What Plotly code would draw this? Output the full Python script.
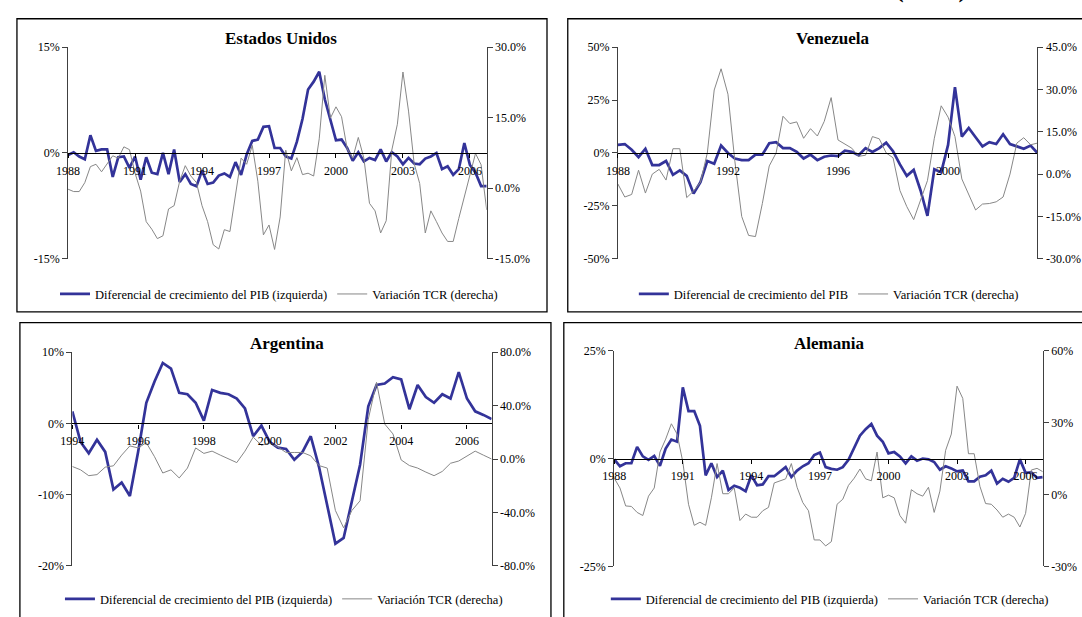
import plotly.graph_objects as go

W, H = 1082, 617
SERIF = "Liberation Serif"
BLUE = "#333399"
GREY = "#878787"

# ---------------- Estados Unidos (trimestral, 1988T1 - 2006T4) ----------------
us_start = 1988
us_gdp = [-0.3, 0.1, -0.5, -0.9, 2.5, 0.3, 0.5, 0.5, -3.4, -0.6,
          -0.5, -2.1, -0.5, -3.8, -0.6, -2.8, -3.0, 0.0, -3.0, 0.5,
          -4.1, -3.0, -4.4, -4.7, -2.5, -4.4, -4.2, -3.2, -2.9, -3.4,
          -1.3, -3.1, -0.2, 1.7, 1.9, 3.7, 3.8, 0.7, 0.7, -0.5,
          -0.8, 1.6, 4.8, 9.0, 10.1, 11.5, 7.6, 4.8, 1.8, 1.9,
          0.7, -1.1, 0.1, -1.2, -0.7, -1.0, 0.5, -1.2, 0.1, -0.5,
          -1.6, -0.7, -1.5, -1.6, -0.8, -0.5, 0.0, -2.3, -1.9, -3.1,
          -2.3, 1.4, -1.7, -2.8, -4.7, -4.7]
us_tcr = [-0.2, -0.7, -0.7, 1.2, 4.6, 5.1, 3.5, 5.3, 6.9, 6.4,
          8.8, 8.2, 3.2, -0.6, -7.1, -8.7, -10.7, -10.1, -4.4, -3.7,
          1.5, 4.8, 2.6, 1.2, -3.7, -7.1, -12.0, -12.9, -8.8, -9.2,
          -1.2, 6.4, 5.1, 9.1, 1.5, -9.9, -7.8, -13.0, -6.1, 8.1,
          3.7, 6.5, 2.9, 3.2, 2.6, 10.5, 24.0, 14.9, 17.3, 15.2,
          8.4, 6.4, 10.8, 6.4, -3.2, -4.8, -9.5, -6.9, 8.1, 13.6,
          24.7, 16.4, 5.3, 1.0, -9.5, -4.8, -7.1, -9.5, -11.3, -11.3,
          -6.4, -1.9, 2.6, 7.4, 5.0, -4.6]
us_years = [1988, 1991, 1994, 1997, 2000, 2003, 2006]
us_left_ticks = [-15, 0, 15]
us_right_ticks = [-15.0, 0.0, 15.0, 30.0]

# ---------------- Venezuela (1988T1 - 2003T2) ----------------
ven_start = 1988
ven_gdp = [3.8, 4.2, 1.5, -2.0, 2.0, -5.7, -5.7, -3.8, -10.3, -8.2,
           -10.8, -19.2, -13.8, -3.8, -5.1, 3.5, 0.0, -2.6, -3.4, -3.4,
           -0.8, -0.8, 4.6, 5.1, 2.3, 2.3, 0.5, -2.6, -0.8, -3.4,
           -1.8, -1.2, -1.5, 1.1, 0.5, -1.1, 2.3, 0.5, 2.3, 4.9,
           0.8, -5.4, -10.8, -8.0, -17.7, -29.7, -7.7, -9.2, 3.8, 31.1,
           7.7, 11.8, 7.4, 3.1, 5.1, 4.2, 8.8, 4.2, 3.1, 2.0, 3.5, 0.0]
ven_tcr = [-3.5, -8.1, -7.2, 1.4, -6.7, 0.0, 1.7, -2.1, 9.0, 9.0,
           -8.3, -6.0, -2.9, 7.5, 29.8, 37.3, 28.3, 4.6, -15.0, -21.7,
           -22.1, -10.4, 2.9, 7.5, 20.5, 17.9, 18.5, 12.7, 16.1, 13.5,
           18.7, 27.1, 12.1, 10.6, 9.2, 6.3, 6.7, 13.3, 12.5, 7.5,
           5.8, -5.8, -11.5, -16.1, -9.2, -2.3, 12.7, 24.2, 20.2, 13.3,
           -1.7, -6.9, -12.7, -10.6, -10.4, -9.8, -8.1, 0.0, 11.0, 12.9, 10.4, 11.0]
ven_years = [1988, 1992, 1996, 2000]
ven_left_ticks = [-50, -25, 0, 25, 50]
ven_right_ticks = [-30.0, -15.0, 0.0, 15.0, 30.0, 45.0]

# ---------------- Argentina (1994T1 - 2006T4) ----------------
arg_start = 1994
arg_gdp = [1.7, -2.6, -4.2, -2.3, -4.0, -9.3, -8.3, -10.2, -4.0, 2.9,
           5.9, 8.5, 7.7, 4.3, 4.1, 2.9, 0.4, 4.7, 4.3, 4.1,
           3.5, 2.1, -1.8, -0.3, -2.6, -3.4, -3.6, -5.1, -4.0, -1.8,
           -6.1, -11.3, -16.9, -16.1, -11.1, -5.8, 2.4, 5.4, 5.6, 6.5,
           6.2, 2.0, 5.4, 3.7, 2.9, 4.1, 3.5, 7.2, 3.5, 1.7, 1.2, 0.6]
arg_tcr = [-5.6, -8.1, -12.5, -11.7, -6.1, -5.1, 2.9, 9.8, 8.3, 12.2,
           1.7, -10.5, -8.1, -14.2, -6.8, 8.3, 4.2, 5.9, 2.9, 0.0,
           -2.7, 5.9, 16.4, 10.3, 12.0, 9.0, 4.9, 4.9, 4.9, 2.4,
           -4.9, -6.8, -38.6, -51.6, -38.6, -31.3, 29.8, 57.5, 26.2, 18.8,
           -0.7, -4.9, -6.8, -9.8, -12.5, -9.3, -3.2, -1.5, 2.2, 5.9, 2.9, 0.0]
arg_years = [1994, 1996, 1998, 2000, 2002, 2004, 2006]
arg_left_ticks = [-20, -10, 0, 10]
arg_right_ticks = [-80.0, -40.0, 0.0, 40.0, 80.0]

# ---------------- Alemania (1988T1 - 2006T4) ----------------
ale_start = 1988
ale_gdp = [-0.2, -1.8, -1.1, -1.1, 2.7, 0.5, -0.3, 0.6, -1.7, 2.3,
           4.4, 3.9, 16.5, 11.0, 11.0, 7.6, -3.9, -1.1, -4.3, -2.8,
           -7.3, -6.3, -6.8, -7.6, -3.9, -6.2, -6.0, -4.1, -4.1, -3.0,
           -2.0, -4.3, -2.8, -1.8, -1.1, 0.8, 1.4, -2.0, -2.4, -2.6,
           -2.0, -0.3, 2.7, 5.3, 6.8, 8.0, 5.3, 3.9, 1.2, 1.5,
           0.5, -1.1, 0.5, -0.5, 0.0, -0.2, -0.8, -2.6, -1.8, -2.3,
           -3.0, -2.8, -5.3, -5.3, -4.2, -3.9, -2.8, -5.8, -4.7, -5.4,
           -4.5, -0.2, -3.3, -3.2, -4.5, -4.3]
ale_tcr = [6.8, 2.7, -4.8, -5.0, -7.5, -8.8, -0.7, 2.7, 17.7, 23.1,
           29.5, 25.2, 13.6, -4.1, -12.9, -11.6, -12.9, -1.4, 12.9, 0.3,
           0.3, 2.7, -10.9, -8.2, -9.5, -9.5, -6.8, -5.4, 4.8, 5.7,
           6.5, 12.9, 3.0, -3.4, -6.8, -19.0, -19.0, -21.5, -19.7, -4.1,
           -2.0, 3.8, 6.8, 10.6, 6.5, 5.7, 17.7, -1.4, -0.3, -1.4,
           -8.8, -12.0, 2.0, 0.3, -0.7, 3.0, -7.5, 1.4, 18.4, 25.2,
           45.2, 40.1, 17.0, 17.0, 3.4, -3.8, -4.1, -6.5, -9.5, -8.2,
           -9.5, -13.6, -7.9, 10.2, 10.9, 9.5]
ale_years = [1988, 1991, 1994, 1997, 2000, 2003, 2006]
ale_left_ticks = [-25, 0, 25]
ale_right_ticks = [-30, 0, 30, 60]

name_gdp_full = "Diferencial de crecimiento del PIB (izquierda)"
name_gdp_short = "Diferencial de crecimiento del PIB"
name_tcr = "Variación TCR (derecha)"

# Pixel geometry of each panel: frame box, plot area, title and legend centres
panels = [
    dict(title="Estados Unidos", start=us_start, gdp=us_gdp, tcr=us_tcr, years=us_years,
         lt=us_left_ticks, rt=us_right_ticks, rfmt="{:.1f}%", gdp_name=name_gdp_full,
         box=(5, 12, 541, 312), plot=(56.7, 41, 480, 257.7), title_xy=(272, 32), legend_xy=(270, 294)),
    dict(title="Venezuela", start=ven_start, gdp=ven_gdp, tcr=ven_tcr, years=ven_years,
         lt=ven_left_ticks, rt=ven_right_ticks, rfmt="{:.1f}%", gdp_name=name_gdp_short,
         box=(562, 12, 1200, 312), plot=(612.7, 41, 1037, 257.7), title_xy=(830, 32), legend_xy=(826, 294)),
    dict(title="Argentina", start=arg_start, gdp=arg_gdp, tcr=arg_tcr, years=arg_years,
         lt=arg_left_ticks, rt=arg_right_ticks, rfmt="{:.1f}%", gdp_name=name_gdp_full,
         box=(8, 323, 545, 700), plot=(61, 353.3, 485, 571.7), title_xy=(278, 344), legend_xy=(275, 606)),
    dict(title="Alemania", start=ale_start, gdp=ale_gdp, tcr=ale_tcr, years=ale_years,
         lt=ale_left_ticks, rt=ale_right_ticks, rfmt="{:d}%", gdp_name=name_gdp_full,
         box=(558, 323, 1200, 700), plot=(609, 351.7, 1042.3, 572.3), title_xy=(826, 344), legend_xy=(827, 606)),
]


def fx(px):
    return px / W


def fy(py):
    return 1 - py / H


fig = go.Figure()
layout = dict(
    width=W, height=H, margin=dict(l=0, r=0, t=0, b=0),
    paper_bgcolor="white", plot_bgcolor="rgba(0,0,0,0)",
    font=dict(family=SERIF, color="black"),
    shapes=[], annotations=[],
)

tick_font = dict(family=SERIF, size=12, color="black")

for k, p in enumerate(panels):
    n = k + 1
    xid = "x" if n == 1 else f"x{n}"
    yl = f"y{2 * n - 1}" if n > 1 else "y"
    yr = f"y{2 * n}"
    leg = "legend" if n == 1 else f"legend{n}"
    xs = [p["start"] + i * 0.25 for i in range(len(p["gdp"]))]

    fig.add_trace(go.Scatter(x=xs, y=p["gdp"], mode="lines", name=p["gdp_name"],
                             line=dict(color=BLUE, width=2.7), xaxis=xid, yaxis=yl, legend=leg))
    fig.add_trace(go.Scatter(x=xs, y=p["tcr"], mode="lines", name=name_tcr,
                             line=dict(color=GREY, width=1), xaxis=xid, yaxis=yr, legend=leg))

    x0, yt, x1, yb = p["plot"]
    lo, hi = min(p["lt"]), max(p["lt"])
    d0, d1 = fy(yb), fy(yt)
    zero_pos = d0 + (0 - lo) / (hi - lo) * (d1 - d0)

    xkey = "xaxis" if n == 1 else f"xaxis{n}"
    layout[xkey] = dict(
        domain=[fx(x0), fx(x1)], range=[xs[0], xs[-1]], anchor="free", position=zero_pos,
        tickmode="array", tickvals=p["years"], ticktext=[str(v) for v in p["years"]],
        ticks="outside", ticklen=4, tickwidth=1, tickcolor="black",
        showline=True, linecolor="black", linewidth=1.3, showgrid=False, zeroline=False,
        tickfont=tick_font, ticklabelstandoff=2, fixedrange=True,
    )
    ylkey = "yaxis" if n == 1 else f"yaxis{2 * n - 1}"
    layout[ylkey] = dict(
        domain=[d0, d1], range=[lo, hi], anchor=xid, side="left",
        tickmode="array", tickvals=p["lt"], ticktext=[f"{v:d}%" for v in p["lt"]],
        ticks="outside", ticklen=5, tickwidth=1, tickcolor="#404040",
        showline=True, linecolor="#404040", linewidth=1, showgrid=False, zeroline=False,
        tickfont=tick_font, fixedrange=True,
    )
    yrkey = f"yaxis{2 * n}"
    layout[yrkey] = dict(
        overlaying=yl, range=[min(p["rt"]), max(p["rt"])], anchor=xid, side="right",
        tickmode="array", tickvals=p["rt"], ticktext=[p["rfmt"].format(v) for v in p["rt"]],
        ticks="outside", ticklen=5, tickwidth=1, tickcolor="#404040",
        showline=True, linecolor="#404040", linewidth=1, showgrid=False, zeroline=False,
        tickfont=tick_font, fixedrange=True,
    )
    lx, ly = p["legend_xy"]
    layout[leg] = dict(
        orientation="h", x=fx(lx), y=fy(ly), xanchor="center", yanchor="middle",
        font=dict(family=SERIF, size=12.5, color="black"), bgcolor="rgba(0,0,0,0)",
        borderwidth=0, itemwidth=30, tracegroupgap=0,
    )
    bx0, by0, bx1, by1 = p["box"]
    layout["shapes"].append(dict(type="rect", xref="paper", yref="paper",
                                 x0=fx(bx0), x1=fx(bx1), y0=fy(by1), y1=fy(by0),
                                 line=dict(color="black", width=1.3), fillcolor="rgba(0,0,0,0)"))
    tx, ty = p["title_xy"]
    layout["annotations"].append(dict(text=f"<b>{p['title']}</b>", xref="paper", yref="paper",
                                      x=fx(tx), y=fy(ty), xanchor="center", yanchor="middle",
                                      showarrow=False, font=dict(family=SERIF, size=17, color="black")))

# Heading above the page, only its lower edge reaches the visible area
layout["annotations"].append(dict(text="<b>(TCR)</b>", xref="paper", yref="paper",
                                  x=fx(929), y=fy(-2), xanchor="center", yanchor="bottom",
                                  showarrow=False, font=dict(family=SERIF, size=26, color="black")))

fig.update_layout(**layout)
fig.update_layout(showlegend=True)
fig.write_html("out.html")
